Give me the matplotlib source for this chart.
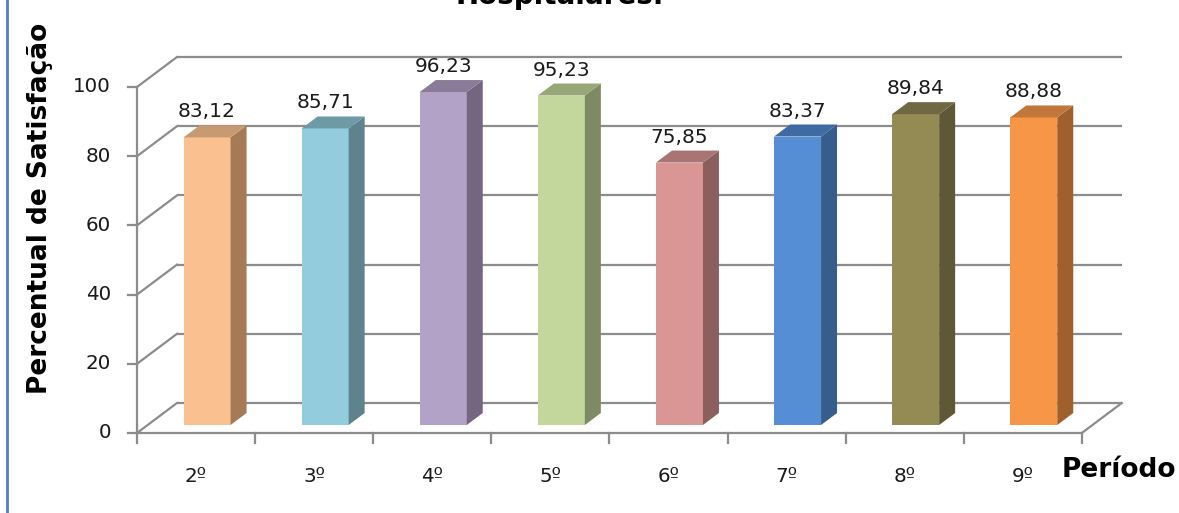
import matplotlib
matplotlib.use("Agg")
import matplotlib.pyplot as plt
from matplotlib.patches import Polygon

# ---- data ----
categories = ["2º", "3º", "4º", "5º", "6º", "7º", "8º", "9º"]
values = [83.12, 85.71, 96.23, 95.23, 75.85, 83.37, 89.84, 88.88]
value_labels = ["83,12", "85,71", "96,23", "95,23", "75,85", "83,37", "89,84", "88,88"]
y_ticks = [0, 20, 40, 60, 80, 100]
front_colors = ["#FAC090", "#93CDDD", "#B3A2C7", "#C3D69B", "#D99694", "#558ED5", "#948A54", "#F79646"]
side_colors = ["#A57A55", "#5E838D", "#74667F", "#7E8A63", "#8B5F5E", "#365D8C", "#5F5836", "#A0602D"]
top_colors = ["#C89A72", "#6E9AA6", "#8A7B98", "#97A777", "#A87574", "#3E6BA3", "#706842", "#C1763A"]

W, H = 1179, 513
fig = plt.figure(figsize=(W / 100, H / 100), dpi=100)
ax = fig.add_axes([0, 0, 1, 1])
ax.set_axis_off()

# pixel geometry of the reference
CAT_PX = 118.1       # px per category
VAL_PX = 3.46        # px per value unit
X0_PX, Y0_PX = 137, 433   # front origin (from top)
ax.set_xlim(-X0_PX / CAT_PX, (W - X0_PX) / CAT_PX)
ax.set_ylim(-(H - Y0_PX) / VAL_PX, Y0_PX / VAL_PX)

n = len(categories)
DX, DY = 40 / CAT_PX, 30 / VAL_PX          # full depth offset
FX, FY = 11 / CAT_PX, 8 / VAL_PX           # bar front face offset
SX, SY = 16 / CAT_PX, 12 / VAL_PX          # bar depth
BW = 47 / CAT_PX                            # bar width

grid_c = "#8C8C8C"
lw = 1.6
# back wall gridlines + left wall diagonals
for v in y_ticks:
    ax.plot([DX, n + DX], [v + DY, v + DY], color=grid_c, lw=lw, zorder=1, solid_capstyle="butt")
    ax.plot([0, DX], [v, v + DY], color=grid_c, lw=lw, zorder=1)
    ax.plot([-9 / CAT_PX, 0], [v, v], color=grid_c, lw=lw, zorder=1)
# floor
ax.plot([0, n], [0, 0], color=grid_c, lw=lw, zorder=1)
ax.plot([n, n + DX], [0, DY], color=grid_c, lw=lw, zorder=1)
# front value axis
ax.plot([0, 0], [0, 100], color=grid_c, lw=lw, zorder=1)
# category ticks
for i in range(n + 1):
    ax.plot([i, i], [0, -10 / VAL_PX], color=grid_c, lw=lw, zorder=1)

txt_c = "#1A1A1A"
fam = ["DejaVu Sans"]
for v in y_ticks:
    ax.text(-26 / CAT_PX, v, str(v), ha="right", va="center", fontsize=14.3, color=txt_c, family=fam)

for i, (v, lab) in enumerate(zip(values, value_labels)):
    x0 = i + 0.5 - BW / 2 + FX
    x1 = x0 + BW
    y0 = FY
    y1 = v + FY
    front = Polygon([(x0, y0), (x1, y0), (x1, y1), (x0, y1)], closed=True,
                    facecolor=front_colors[i], edgecolor="none", zorder=3)
    side = Polygon([(x1, y0), (x1 + SX, y0 + SY), (x1 + SX, y1 + SY), (x1, y1)], closed=True,
                   facecolor=side_colors[i], edgecolor="none", zorder=3)
    top = Polygon([(x0, y1), (x1, y1), (x1 + SX, y1 + SY), (x0 + SX, y1 + SY)], closed=True,
                  facecolor=top_colors[i], edgecolor="none", zorder=3)
    for p in (front, side, top):
        ax.add_patch(p)
    ax.text((x0 + x1) / 2, y1 + SY + 4 / VAL_PX, lab, ha="center", va="bottom",
            fontsize=14.5, color=txt_c, family=fam, zorder=4)
    ax.text(i + 0.5, -44 / VAL_PX, categories[i], ha="center", va="center",
            fontsize=14.3, color=txt_c, family=fam)

ax.text(n - 20 / CAT_PX, -37 / VAL_PX, "Período", ha="left", va="center",
        fontsize=19, fontweight="bold", color="black", family=fam)

fig.text(40 / W, 1 - 208 / H, "Percentual de Satisfação", rotation=90, ha="center", va="center",
         fontsize=19, fontweight="bold", color="black", family=fam)

fig.text(560 / W, 1 - 3.5 / H, "Hospitalares.", ha="center", va="baseline",
         fontsize=20, fontweight="bold", color="black", family=fam)

# left border of chart frame
fig.add_artist(plt.Line2D([7 / W, 7 / W], [0, 1], color="#4F81BD", lw=2))

fig.savefig("out.png", dpi=100)
